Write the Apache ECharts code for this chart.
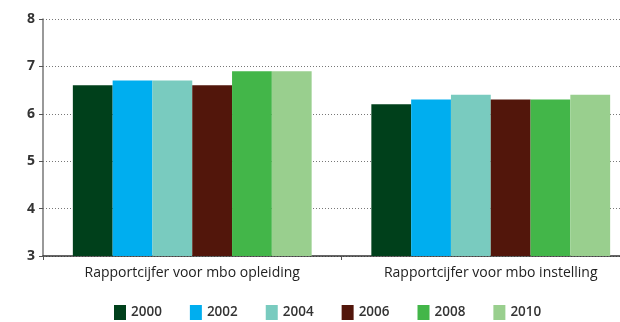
<!DOCTYPE html>
<html>
<head>
<meta charset="utf-8">
<script src="https://cdn.jsdelivr.net/npm/echarts@6/dist/echarts.min.js"></script>
<style>
  html, body { margin: 0; padding: 0; background: #fff; overflow: hidden; }
  /* drawing surface is a little wider than the window; the plot runs off the right edge */
  #chart { width: 640px; height: 322px; }
</style>
</head>
<body>
<div id="chart"></div>
<script>
// Rapportcijfers per meetjaar
const categories = ['Rapportcijfer voor mbo opleiding', 'Rapportcijfer voor mbo instelling'];
const years = ['2000', '2002', '2004', '2006', '2008', '2010'];
const values2000 = [6.6, 6.2];
const values2002 = [6.7, 6.3];
const values2004 = [6.7, 6.4];
const values2006 = [6.6, 6.3];
const values2008 = [6.9, 6.3];
const values2010 = [6.9, 6.4];
const yearColors = ['#00401b', '#00aeef', '#79cbbf', '#52160b', '#43b649', '#99cf8e'];

const seriesValues = [values2000, values2002, values2004, values2006, values2008, values2010];
const font = '"Open Sans", "Noto Sans", sans-serif';

const chart = echarts.init(document.getElementById('chart'));
chart.setOption({
  animation: false,
  textStyle: { fontFamily: font },
  grid: { left: 43, top: 19, right: 0, bottom: 66 },
  legend: {
    bottom: -3,
    left: 109,
    itemWidth: 12,
    itemHeight: 15,
    itemGap: 28,
    icon: 'rect',
    textStyle: { fontSize: 13.5, color: '#333', fontFamily: font, fontWeight: 600 },
    data: years
  },
  xAxis: {
    type: 'category',
    data: categories,
    axisLine: { lineStyle: { color: '#333', width: 1.5 } },
    axisTick: { show: true, length: 4, lineStyle: { color: '#555' } },
    axisLabel: { fontSize: 14, color: '#222', margin: 10, fontFamily: font, fontWeight: 500 }
  },
  yAxis: {
    type: 'value',
    min: 3,
    max: 8,
    interval: 1,
    axisLine: { show: true, lineStyle: { color: '#777', width: 1.5 } },
    axisTick: { show: true, length: 4, lineStyle: { color: '#555' } },
    axisLabel: { fontSize: 14, fontWeight: 'bold', color: '#333', margin: 8, fontFamily: font },
    splitLine: { lineStyle: { type: [1, 2], color: '#777' } }
  },
  series: years.map((y, i) => ({
    name: y,
    type: 'bar',
    data: seriesValues[i],
    barGap: '0%',
    barCategoryGap: '20%',
    itemStyle: { color: yearColors[i] }
  }))
});
</script>
</body>
</html>
